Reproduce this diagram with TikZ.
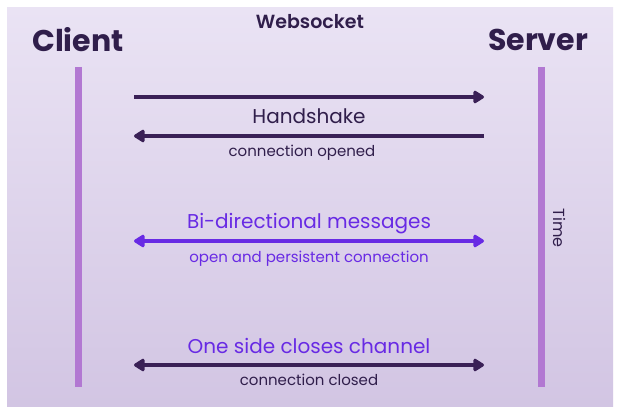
\documentclass[tikz,border=0pt]{standalone}
\usepackage{fontspec}
\setmainfont{Poppins}
\newfontfamily\titlefont{Poppins SemiBold}
\usetikzlibrary{arrows.meta}

\definecolor{inkdark}{RGB}{48,30,75}
\definecolor{arrowdark}{RGB}{58,32,86}
\definecolor{msgpurple}{RGB}{104,42,228}
\definecolor{barlilac}{RGB}{178,120,210}
\definecolor{bgtop}{RGB}{234,227,244}
\definecolor{bgbottom}{RGB}{210,197,227}

\tikzset{
	lifeline/.style={barlilac, line width=7pt},
	msgarrow/.style={arrowdark, line width=3.2pt, -{Triangle[length=12pt,width=14pt,round]}},
	bothways/.style={msgarrow, {Triangle[length=12pt,width=14pt,round]}-{Triangle[length=12pt,width=14pt,round]}},
	partytext/.style={inkdark, font=\fontsize{30}{32}\selectfont\bfseries},
	labeltext/.style={inkdark, font=\fontsize{20}{22}\selectfont},
	subtext/.style={inkdark, font=\fontsize{15}{17}\selectfont}
}

\begin{document}
\begin{tikzpicture}[x=1pt, y=-1pt]
			% background
			\fill[white] (0,0) rectangle (618,411);
			\shade[top color=bgtop, bottom color=bgbottom] (7,8) rectangle (613,406);
			\useasboundingbox (0,0) rectangle (618,411);

			% title and parties
			\node[inkdark, font=\fontsize{19}{21}\selectfont\titlefont] (title) at (310,22) {Websocket};
			\node[partytext] (client) at (78,40) {Client};
			\node[partytext] (server) at (538,40) {Server};

			% lifelines
			\coordinate (clienttop) at (78.5,67);
			\coordinate (clientbot) at (78.5,387);
			\coordinate (servertop) at (541,67);
			\coordinate (serverbot) at (541,387);
			\draw[lifeline] (clienttop) -- (clientbot);
			\draw[lifeline] (servertop) -- (serverbot);
			\node[inkdark, font=\fontsize{16}{18}\selectfont, rotate=-90] (time) at (560,228) {Time};

			% handshake
			\coordinate (hsoutL) at (134,97);
			\coordinate (hsoutR) at (484,97);
			\coordinate (hsbackL) at (134,136);
			\coordinate (hsbackR) at (484,136);
			\draw[msgarrow] (hsoutL) -- (hsoutR);
			\draw[msgarrow] (hsbackR) -- (hsbackL);
			\node[labeltext] (handshake) at (309,116) {Handshake};
			\node[subtext] (opened) at (302,153) {connection opened};

			% messages
			\coordinate (msgL) at (134,241);
			\coordinate (msgR) at (484,241);
			\draw[bothways, msgpurple] (msgL) -- (msgR);
			\node[labeltext, msgpurple] (bidir) at (309,224) {Bi-directional messages};
			\node[subtext, msgpurple] (persist) at (309,259) {open and persistent connection};

			% closing
			\coordinate (closeL) at (134,365);
			\coordinate (closeR) at (484,365);
			\draw[bothways] (closeL) -- (closeR);
			\node[labeltext, msgpurple] (closes) at (309,346) {One side closes channel};
			\node[subtext] (closed) at (309,380) {connection closed};

		\end{tikzpicture}
\end{document}
